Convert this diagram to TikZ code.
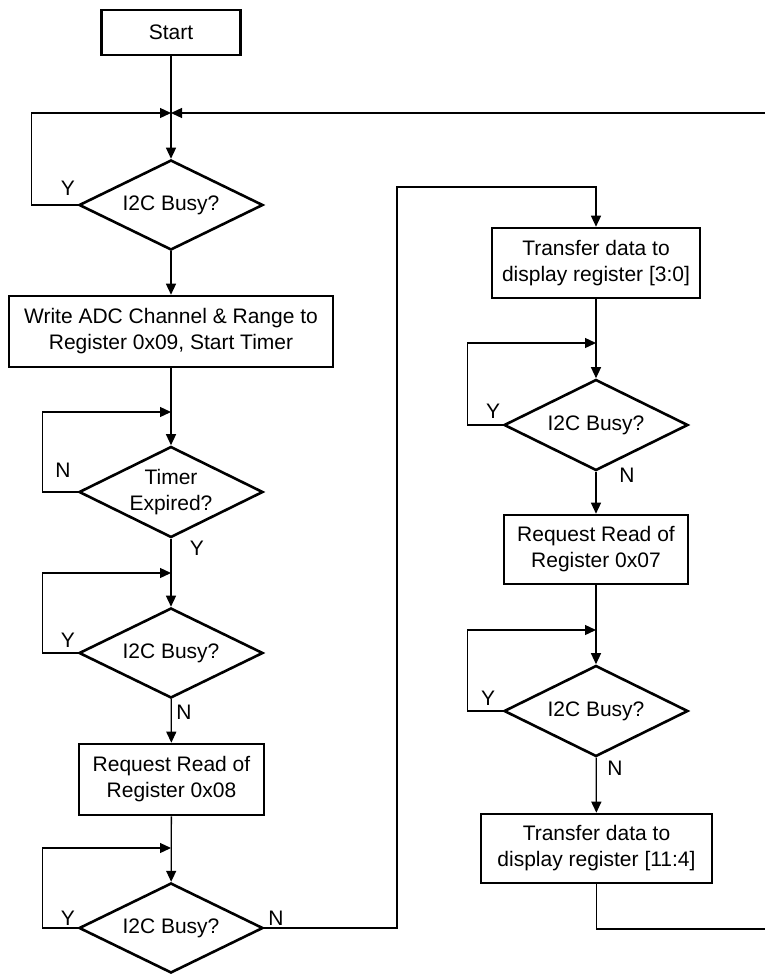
\documentclass[tikz,border=0pt]{standalone}
\usepackage{fontspec}
\setmainfont{Liberation Sans}
\usetikzlibrary{shapes.geometric,arrows.meta}
\tikzset{
  procbox/.style={draw, rectangle, line width=2.6pt, inner sep=0pt, align=center},
  decis/.style={draw, diamond, aspect=2.04, line width=2.6pt, inner sep=0pt, align=center,
                minimum width=184pt, minimum height=90pt},
  conn/.style={line width=1.3pt},
  arr/.style={conn, -{Triangle[length=11pt,width=10pt]}},
  lbl/.style={inner sep=0pt},
}
\begin{document}
\begin{tikzpicture}[x=1pt,y=-1pt,font=\fontsize{21}{26}\selectfont]
\useasboundingbox (0,0) rectangle (764,975);
% left column
\node[procbox, minimum width=139pt, minimum height=45pt] (start) at (171,32.5) {Start};
\node[decis] (d1) at (171,205) {I2C Busy?};
\node[procbox, minimum width=324pt, minimum height=71pt] (b2) at (171,331.5) {Write ADC Channel \& Range to\\Register 0x09, Start Timer};
\node[decis, minimum height=91pt] (d2) at (171,492) {Timer\\Expired?};
\node[decis] (d3) at (171,653) {I2C Busy?};
\node[procbox, minimum width=185pt, minimum height=71pt] (b3) at (171.5,779.5) {Request Read of\\Register 0x08};
\node[decis] (d4) at (171,928) {I2C Busy?};
% right column
\node[procbox, minimum width=208pt, minimum height=70pt] (b4) at (596,263) {Transfer data to\\display register [3:0]};
\node[decis, minimum height=91pt] (d5) at (596,425) {I2C Busy?};
\node[procbox, minimum width=184pt, minimum height=69pt] (b5) at (596,549.5) {Request Read of\\Register 0x07};
\node[decis, minimum height=91pt] (d6) at (596,711) {I2C Busy?};
\node[procbox, minimum width=231pt, minimum height=69pt] (b6) at (596.5,848.5) {Transfer data to\\display register [11:4]};
% merge points
\coordinate (m1) at (171,113);
\coordinate (m2) at (171,412);
\coordinate (m3) at (171,573);
\coordinate (m4) at (171,848);
\coordinate (m5) at (596,343);
\coordinate (m6) at (596,630);
\coordinate (n1) at (397,187);
\coordinate (r1) at (766,929);
\coordinate (r2) at (766,113);
% main flow
\draw[arr] (start) -- (d1);
\draw[arr] (d1) -- (b2);
\draw[arr] (b2) -- (d2);
\draw[arr] (d2) -- (d3);
\draw[arr] (d3) -- (b3);
\draw[arr] (b3) -- (d4);
\draw[arr] (d4.east) -| (n1) -| (b4.north);
\draw[arr] (b4) -- (d5);
\draw[arr] (d5) -- (b5);
\draw[arr] (b5) -- (d6);
\draw[arr] (d6) -- (b6);
\draw[arr] (b6.south) |- (r1) -- (r2) -- (m1);
% loops
\draw[arr] (d1.west) -- ++(-46,0) |- (m1);
\draw[arr] (d2.west) -- ++(-35,0) |- (m2);
\draw[arr] (d3.west) -- ++(-35,0) |- (m3);
\draw[arr] (d4.west) -- ++(-35,0) |- (m4);
\draw[arr] (d5.west) -- ++(-35,0) |- (m5);
\draw[arr] (d6.west) -- ++(-35,0) |- (m6);
% labels
\node[lbl] (y1) at (68,188) {Y};
\node[lbl] (n2) at (63,470) {N};
\node[lbl] (y2) at (197,548) {Y};
\node[lbl] (y3) at (68,640) {Y};
\node[lbl] (n3) at (184,712) {N};
\node[lbl] (y4) at (68,918) {Y};
\node[lbl] (n4) at (276,918) {N};
\node[lbl] (y5) at (493,411) {Y};
\node[lbl] (n5) at (627,475) {N};
\node[lbl] (y6) at (488,698) {Y};
\node[lbl] (n6) at (615,768) {N};
\end{tikzpicture}
\end{document}
